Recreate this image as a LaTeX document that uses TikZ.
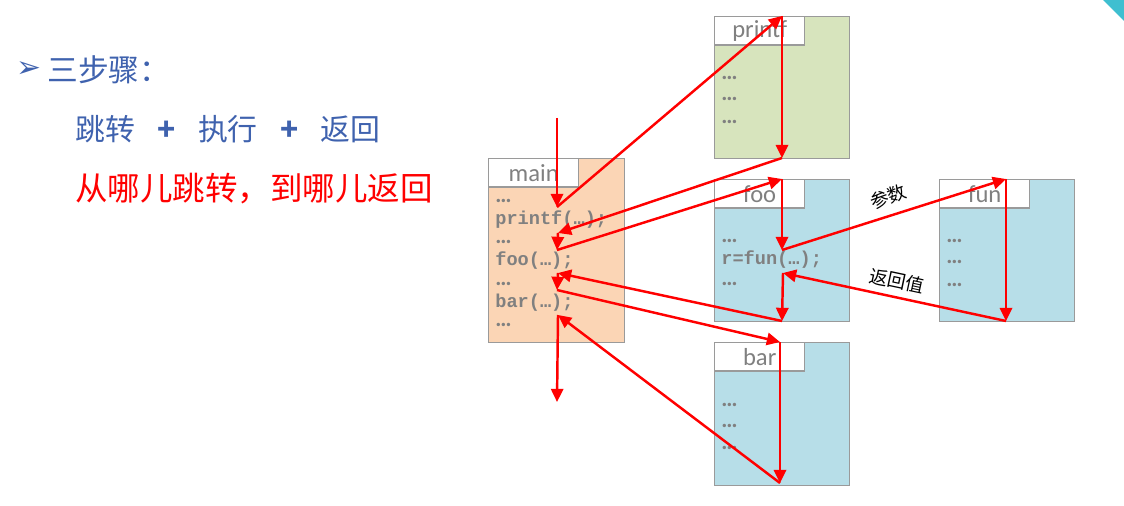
\documentclass[tikz,border=0pt]{standalone}
\usepackage{fontspec}
\setmainfont{Carlito}
\newfontfamily\cjk{Noto Sans CJK SC}
\newfontfamily\codefont{Liberation Mono}
\newfontfamily\symfont{DejaVu Sans}
\usetikzlibrary{arrows.meta}

\definecolor{mainfill}{HTML}{FBD5B5}
\definecolor{printffill}{HTML}{D7E4BD}
\definecolor{callfill}{HTML}{B7DEE8}
\definecolor{framegray}{HTML}{9A9A9A}
\definecolor{textgray}{HTML}{808080}
\definecolor{titleblue}{HTML}{3F62AE}
\definecolor{cornercyan}{HTML}{3FBFD0}

\tikzset{
    frame/.style={draw=framegray, line width=0.8pt, inner sep=0pt, anchor=north west},
    tabbox/.style={draw=framegray, fill=white, line width=0.8pt, inner sep=0pt,
        anchor=north west, minimum width=1.8cm, minimum height=0.57cm,
        text=textgray, font=\fontsize{14}{15}\selectfont},
    code/.style={anchor=west, inner sep=0pt, text=textgray,
        font=\codefont\bfseries\fontsize{10.6}{12}\selectfont},
    dots/.style={anchor=west, inner sep=0pt, text=textgray,
        font=\bfseries\fontsize{13}{14}\selectfont},
    flow/.style={draw=red, line width=1.4pt, -{Triangle[length=7.5pt,width=7pt]}},
    note/.style={inner sep=0pt, font=\cjk\fontsize{10.5}{12}\selectfont}
}

\begin{document}
\begin{tikzpicture}[x=0.02cm, y=-0.02cm]
    \useasboundingbox (0,0) rectangle (1124,506);

    % Corner mark
    \fill[cornercyan] (1103,0) -- (1124,0) -- (1124,21) -- cycle;

    % Left hand text
    \node[text=titleblue, inner sep=0pt, font=\symfont\fontsize{17}{18}\selectfont] (bullet) at (29,70) {➢};
    \node[anchor=west, inner sep=0pt, text=titleblue, font=\cjk\fontsize{17.5}{20}\selectfont] (steps) at (47,70) {三步骤：};
    \node[anchor=west, inner sep=0pt, text=titleblue, font=\cjk\fontsize{17}{20}\selectfont] (jump) at (75,129)
        {跳转\hspace{0.75em}\textbf{+}\hspace{0.75em}执行\hspace{0.75em}\textbf{+}\hspace{0.75em}返回};
    \node[anchor=west, inner sep=0pt, text=red, font=\cjk\fontsize{18.5}{20}\selectfont] (where) at (75,189) {从哪儿跳转，到哪儿返回};

    % Function boxes
    \node[frame, fill=mainfill, minimum width=2.72cm, minimum height=3.68cm] (main) at (488,158) {};
    \node[tabbox] (main-tab) at (main.north west) {main};
    \node[frame, fill=printffill, minimum width=2.7cm, minimum height=2.84cm] (printf) at (714,16) {};
    \node[tabbox] (printf-tab) at (printf.north west) {printf};
    \node[frame, fill=callfill, minimum width=2.7cm, minimum height=2.84cm] (foo) at (714,179) {};
    \node[tabbox] (foo-tab) at (foo.north west) {foo};
    \node[frame, fill=callfill, minimum width=2.7cm, minimum height=2.84cm] (fun) at (939,179) {};
    \node[tabbox] (fun-tab) at (fun.north west) {fun};
    \node[frame, fill=callfill, minimum width=2.7cm, minimum height=2.86cm] (bar) at (714,342) {};
    \node[tabbox] (bar-tab) at (bar.north west) {bar};

    % Lines of main
    \node[dots] (main-l1) at (495,201) {…};
    \node[code] (main-l2) at (495,220) {printf(…);};
    \node[dots] (main-l3) at (495,242) {…};
    \node[code] (main-l4) at (495,261) {foo(…);};
    \node[dots] (main-l5) at (495,284) {…};
    \node[code] (main-l6) at (495,303) {bar(…);};
    \node[dots] (main-l7) at (495,325) {…};

    % Lines of printf, foo, fun and bar
    \node[dots] (printf-l1) at (721,78) {…};
    \node[dots] (printf-l2) at (721,99) {…};
    \node[dots] (printf-l3) at (721,122) {…};
    \node[dots] (foo-l1) at (721,241) {…};
    \node[code] (foo-l2) at (721,260) {r=fun(…);};
    \node[dots] (foo-l3) at (721,284) {…};
    \node[dots] (fun-l1) at (946,241) {…};
    \node[dots] (fun-l2) at (946,262) {…};
    \node[dots] (fun-l3) at (946,285) {…};
    \node[dots] (bar-l1) at (721,405) {…};
    \node[dots] (bar-l2) at (721,426) {…};
    \node[dots] (bar-l3) at (721,448) {…};

    % Points of the control flow
    \coordinate (m-in) at (557,118);
    \coordinate (m-a) at (557,207);
    \coordinate (m-b) at (558,233);
    \coordinate (m-c) at (557,250);
    \coordinate (m-d) at (558,273);
    \coordinate (m-e) at (557,290);
    \coordinate (m-f) at (558,315);
    \coordinate (m-out) at (557,402);
    \coordinate (p-top) at (782,16);
    \coordinate (p-bot) at (782,158);
    \coordinate (f-top) at (782,179);
    \coordinate (f-a) at (782,250);
    \coordinate (f-b) at (783,273);
    \coordinate (f-bot) at (782,321);
    \coordinate (u-top) at (1006,179);
    \coordinate (u-bot) at (1006,321);
    \coordinate (b-top) at (780,342);
    \coordinate (b-bot) at (780,483);

    % Control flow arrows
    \draw[flow] (m-in) -- (m-a);
    \draw[flow] (m-a) -- (p-top);
    \draw[flow] (p-top) -- (p-bot);
    \draw[flow] (p-bot) -- (m-b);
    \draw[flow] (m-b) -- (m-c);
    \draw[flow] (m-c) -- (f-top);
    \draw[flow] (f-top) -- (f-a);
    \draw[flow] (f-a) -- (u-top);
    \draw[flow] (u-top) -- (u-bot);
    \draw[flow] (u-bot) -- (f-b);
    \draw[flow] (f-b) -- (f-bot);
    \draw[flow] (f-bot) -- (m-d);
    \draw[flow] (m-d) -- (m-e);
    \draw[flow] (m-e) -- (b-top);
    \draw[flow] (b-top) -- (b-bot);
    \draw[flow] (b-bot) -- (m-f);
    \draw[flow] (m-f) -- (m-out);

    % Arrow labels
    \node[note, rotate=20] (args) at (888,197) {参数};
    \node[note, rotate=-12] (retval) at (897,281) {返回值};
\end{tikzpicture}
\end{document}
